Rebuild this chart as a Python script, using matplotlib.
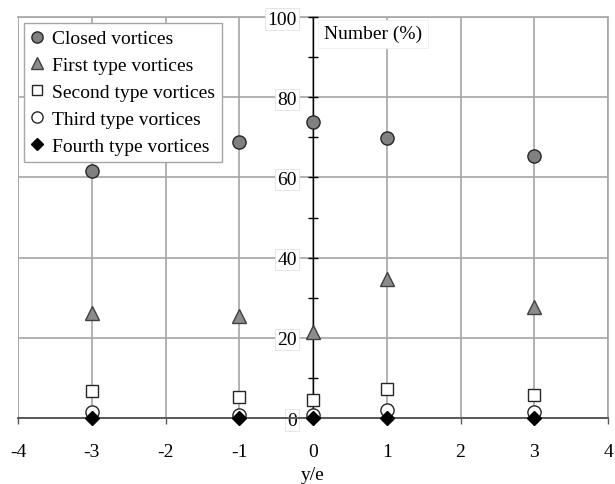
import matplotlib.pyplot as plt
from matplotlib.ticker import MultipleLocator

plt.rcParams["font.family"] = ["Liberation Serif", "DejaVu Serif"]
plt.rcParams["axes.unicode_minus"] = False

positions = [-3, -1, 0, 1, 3]
closed = [61.6, 68.8, 73.8, 69.8, 65.3]
first_type = [26.2, 25.5, 21.4, 34.7, 27.7]
second_type = [6.7, 5.2, 4.5, 7.2, 5.8]
third_type = [1.4, 0.7, 0.7, 2.0, 1.4]
fourth_type = [0.0, 0.0, 0.0, 0.0, 0.0]

fig = plt.figure(figsize=(6.15, 4.85), dpi=100)
ax = fig.add_axes([18 / 615, 1 - 419 / 485, 590 / 615, 401 / 485])
ax.set_xlim(-4, 4)
ax.set_ylim(0, 100)

grid_color = "#a6a6a6"
ax.set_xticks(range(-4, 5))
ax.set_yticks(range(0, 101, 20))
ax.yaxis.set_minor_locator(MultipleLocator(10))
ax.grid(True, color=grid_color, linewidth=1.2, zorder=0)
ax.set_axisbelow(True)

for side in ("top", "right"):
    ax.spines[side].set_color(grid_color)
    ax.spines[side].set_linewidth(1.2)
    ax.spines[side].set_zorder(0.3)
ax.spines["bottom"].set_color("#595959")
ax.spines["bottom"].set_linewidth(1.4)
ax.spines["left"].set_position(("data", 0))
ax.spines["left"].set_color("black")
ax.spines["left"].set_linewidth(1.0)
ax.spines["left"].set_zorder(1.5)

# left frame edge
ax.axvline(-4, color=grid_color, linewidth=1.2, zorder=0)

ax.tick_params(axis="y", which="both", direction="inout", length=7.2, width=1.0,
               labelsize=14, pad=8, colors="black")
ax.tick_params(axis="x", direction="out", length=4, width=1.0, color="#595959",
               labelsize=14, pad=14)
for lbl in ax.get_yticklabels():
    lbl.set_bbox(dict(facecolor="white", edgecolor="#e0e0e0", linewidth=0.6, pad=1.5))

ms = 9.5
ax.plot(positions, closed, "o", ms=ms, mfc="#808080", mec="#262626", mew=1.0,
        ls="none", label="Closed vortices", zorder=3)
ax.plot(positions, first_type, "^", ms=ms, mfc="#8c8c8c", mec="#404040", mew=1.0,
        ls="none", label="First type vortices", zorder=3)
ax.plot(positions, second_type, "s", ms=ms - 1, mfc="white", mec="#262626", mew=1.0,
        ls="none", label="Second type vortices", zorder=3)
ax.plot(positions, third_type, "o", ms=ms, mfc="white", mec="#262626", mew=1.0,
        ls="none", label="Third type vortices", zorder=3)
ax.plot(positions, fourth_type, "D", ms=ms - 2, mfc="black", mec="black", mew=1.0,
        ls="none", label="Fourth type vortices", zorder=4, clip_on=False)

leg = ax.legend(loc="upper left", bbox_to_anchor=(0.004, 0.995), fontsize=14,
                frameon=True, fancybox=False, handlelength=0.6, handletextpad=0.5,
                borderpad=0.35, labelspacing=0.48, borderaxespad=0.2, markerscale=0.85)
leg.get_frame().set_edgecolor(grid_color)
leg.get_frame().set_linewidth(1.0)
leg.get_frame().set_alpha(1)

ax.text(0.15, 95.8, "Number (%)", fontsize=14, ha="left", va="center",
        bbox=dict(facecolor="white", edgecolor="#eeeeee", linewidth=0.6, pad=4), zorder=5)

ax.set_xlabel("y/e", fontsize=14, labelpad=4)

fig.savefig("out.png", dpi=100)
